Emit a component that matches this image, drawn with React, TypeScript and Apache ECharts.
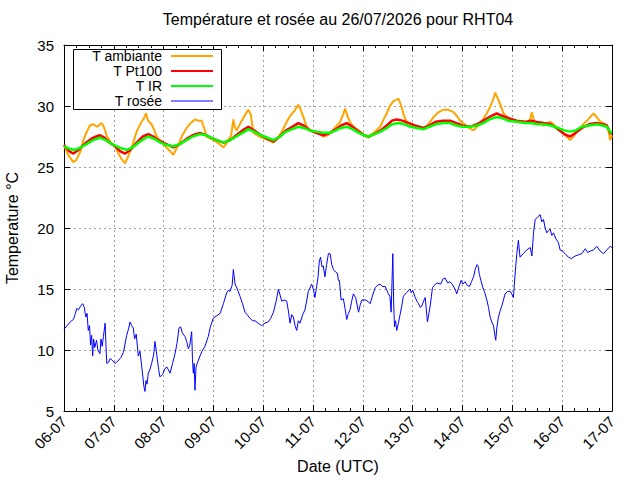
import React, { useEffect, useRef } from "react";
import * as echarts from "echarts";

// hours since 06-07 00:00 UTC, value °C
const dateLabels = ["06-07", "07-07", "08-07", "09-07", "10-07", "11-07", "12-07", "13-07", "14-07", "15-07", "16-07", "17-07"];
const seriesNames = ["T ambiante", "T Pt100", "T IR", "T rosée"];
const seriesColors = ["#ffa500", "#ff0000", "#00ff00", "#0000ff"];

const ambianteData = [
  [0, 26.8], [2, 26.0], [4.5, 25.4], [6, 25.6], [8, 26.3], [9.3, 27.2], [11, 27.9], [12.5, 28.4], [14.1, 28.5], [16, 28.3], [18.1, 28.6], [19.2, 28.3], [20.5, 27.6], [22.5, 27.0],
  [24.6, 26.7], [26.5, 26.0], [28, 25.6], [29.4, 25.3], [31, 25.9], [33, 26.8], [35, 27.9], [37, 28.6], [38.5, 29.0], [39.5, 29.4], [40.5, 28.8], [42.2, 28.5], [43.5, 28.0], [44.6, 27.5],
  [47, 27.0], [50, 26.5], [52.7, 26.0], [55, 26.8], [57, 27.6], [59.1, 28.2], [61, 28.6], [63.1, 28.9], [64.7, 28.8], [66.3, 28.8], [67.5, 28.2], [68.7, 27.5],
  [71, 27.3], [74, 27.0], [76.8, 26.6], [78.5, 27.0], [80.5, 27.6], [81.6, 28.9], [82.2, 28.3], [83.2, 28.0], [85, 28.6], [87, 29.2], [88.8, 29.7], [90, 29.3], [91.2, 27.8],
  [94, 27.5], [97, 27.3], [100.9, 27.0], [103, 27.4], [105, 27.9], [107.3, 28.7], [109, 29.2], [111, 29.6], [112.9, 30.1], [114, 29.7], [115.5, 29.0], [116.9, 28.3],
  [119, 28.0], [121.5, 27.9], [124.9, 27.5], [127, 27.6], [128.2, 27.8], [130.5, 28.2], [133, 28.7], [134.5, 29.3], [135.4, 29.8], [136.5, 29.2], [138, 28.6], [139.4, 28.3],
  [142, 28.0], [144.5, 27.6], [146.7, 27.4], [148.5, 27.7], [150.5, 28.0], [152.3, 28.3], [154, 28.9], [155.5, 29.4], [157, 30.0], [158.7, 30.4], [160, 30.5], [161.1, 30.6],
  [162.5, 30.0], [163.8, 29.2], [165.1, 28.7], [168, 28.5], [170.5, 28.3], [173.2, 28.1], [175.5, 28.5], [178, 29.1], [180.5, 29.5], [182.8, 29.7], [185, 29.7], [187.6, 29.5],
  [189.2, 29.2], [190.8, 28.8], [193, 28.5], [195, 28.2], [197.3, 28.0], [199.5, 28.4], [201.5, 28.8], [203.7, 29.4], [205.5, 30.0], [207.1, 30.7], [207.7, 31.1], [209, 30.6],
  [210.5, 30.0], [211.7, 29.4], [213.5, 29.1], [215.8, 28.9], [218.1, 28.7], [220.5, 28.7], [223, 28.6], [224.5, 28.9], [225.4, 29.5], [226.2, 28.9], [227, 28.5], [229, 28.6],
  [231, 28.4], [232.6, 28.6], [234.2, 28.7], [236.5, 28.4], [239, 28.0], [241.5, 27.6], [243.8, 27.2], [245.5, 27.5], [247.5, 28.0], [250.2, 28.5], [252.5, 28.9], [255.1, 29.4],
  [257, 29.0], [258.5, 28.7], [259.9, 28.6], [261.5, 28.4], [262.5, 27.8], [263.1, 27.2], [264, 27.6],
];

const pt100Data = [
  [0, 26.8], [2.5, 26.3], [4.5, 26.1], [7, 26.4], [10, 26.9], [13, 27.3], [15.5, 27.5], [17.3, 27.6], [19.5, 27.4], [22, 27.0], [24.6, 26.7], [27, 26.3], [29.4, 26.1],
  [32, 26.4], [35, 27.0], [38, 27.5], [40.6, 27.7], [43, 27.5], [45.5, 27.2], [49, 26.9], [52.7, 26.6], [56, 26.9], [59, 27.3], [62, 27.6], [65.5, 27.8], [68.5, 27.6],
  [72, 27.3], [76.8, 27.0], [80, 27.2], [83, 27.6], [86, 28.0], [88.8, 28.3], [91.5, 28.0], [95, 27.6], [98, 27.3], [100.9, 27.1], [104, 27.5], [107, 28.0], [110, 28.3],
  [112.9, 28.6], [115.5, 28.4], [118.5, 28.0], [121.5, 27.8], [124.9, 27.6], [128.2, 27.8], [131, 28.1], [133.5, 28.4], [136.2, 28.6], [139, 28.3], [142, 27.9], [144.5, 27.6],
  [146.7, 27.5], [149.5, 27.7], [152.5, 28.0], [155.5, 28.4], [158, 28.8], [160.3, 28.9], [163, 28.8], [166, 28.6], [169, 28.4], [173.2, 28.2], [176, 28.4], [179, 28.7],
  [182.8, 28.8], [186, 28.8], [189, 28.6], [192, 28.4], [195.6, 28.3], [199, 28.5], [202, 28.8], [205, 29.1], [208.5, 29.4], [211, 29.2], [214, 29.0], [218.1, 28.8],
  [222, 28.7], [225, 28.8], [227.8, 28.7], [231, 28.6], [234.5, 28.5], [238, 28.1], [241, 27.7], [243.8, 27.5], [246.5, 27.8], [249.5, 28.2], [253, 28.5], [256.7, 28.6],
  [259.5, 28.5], [261.5, 28.4], [263.1, 27.8], [264, 27.7],
];

const irData = [
  [0, 26.7], [2.5, 26.5], [5.3, 26.4], [8, 26.6], [11, 26.9], [14, 27.2], [17.3, 27.4], [20, 27.2], [23, 26.9], [26.5, 26.6], [30.2, 26.4], [33, 26.6], [36, 27.0],
  [38.5, 27.3], [40.6, 27.5], [43.5, 27.3], [46.5, 27.0], [49.5, 26.8], [52.7, 26.7], [56, 26.9], [59, 27.2], [62, 27.5], [65.5, 27.7], [68.5, 27.6], [72, 27.3],
  [76.8, 27.0], [80, 27.2], [83, 27.5], [86, 27.8], [88.8, 28.1], [91.5, 27.9], [95, 27.6], [98, 27.4], [100.9, 27.2], [104, 27.5], [107, 27.9], [110, 28.1], [112.9, 28.3],
  [115.5, 28.2], [118.5, 28.0], [121.5, 27.9], [124.9, 27.8], [128.2, 27.8], [131, 28.0], [133.5, 28.2], [136.2, 28.3], [139, 28.1], [142, 27.8], [144.5, 27.6], [146.7, 27.5],
  [149.5, 27.7], [152.5, 27.9], [155.5, 28.2], [158, 28.5], [161.1, 28.6], [164, 28.5], [167, 28.3], [170, 28.2], [173.2, 28.1], [176, 28.3], [179, 28.5], [182.8, 28.6],
  [186, 28.6], [189, 28.4], [192, 28.3], [195.6, 28.3], [199, 28.4], [202, 28.6], [205, 28.9], [208.5, 29.1], [211, 29.0], [214, 28.8], [218.1, 28.7], [222, 28.6],
  [225, 28.6], [228, 28.5], [231, 28.5], [234.5, 28.4], [238, 28.2], [241, 28.0], [243.8, 27.9], [246.5, 28.0], [249.5, 28.3], [253, 28.4], [256.7, 28.5], [259.5, 28.4],
  [261.5, 28.3], [263.1, 27.9], [264, 27.8],
];

const roseeData = [
  [0, 11.7], [1.5, 12.0], [3, 12.3], [4.5, 12.5], [5.5, 13.0], [6.1, 13.4], [7, 13.3], [8, 13.6], [9, 13.8], [9.8, 13.5], [10.1, 13.1], [10.6, 12.7], [11.1, 13.0], [11.7, 11.6],
  [12.3, 12.0], [12.8, 10.4], [13.3, 11.2], [13.8, 9.5], [14.3, 10.9], [14.8, 10.2], [15.7, 10.8], [16.3, 10.0], [17.3, 9.7], [17.8, 10.9], [18.4, 10.3], [19.0, 11.1],
  [19.8, 12.2], [20.2, 10.5], [20.6, 8.9], [21.5, 9.0], [22.2, 9.3], [23.0, 9.2], [24.6, 8.9], [26, 9.1], [27.5, 9.4], [28.6, 9.8], [30.2, 11.2], [31.2, 11.8], [31.8, 12.3],
  [32.6, 12.0], [33.4, 11.8], [34.0, 10.9], [34.8, 11.3], [35.8, 9.5], [36.6, 9.9], [37.4, 8.7], [38.0, 7.8], [38.5, 7.0], [39.0, 6.6], [39.5, 7.5], [40.0, 7.2], [40.6, 8.1],
  [41.4, 8.4], [42.2, 8.9], [43.2, 9.6], [43.8, 10.7], [44.4, 10.0], [45.0, 9.2], [45.6, 8.4], [46.2, 7.8], [47.5, 8.0], [48.7, 8.5], [49.6, 8.6], [51.1, 8.1], [52.3, 8.9],
  [53.5, 9.7], [54.5, 10.6], [55.4, 11.8], [56.2, 11.9], [57.0, 11.4], [58.3, 11.1], [59.1, 10.7], [59.9, 10.1], [60.6, 10.4], [61.5, 11.5], [61.9, 9.2], [62.3, 8.1],
  [62.7, 8.9], [63.1, 6.7], [63.6, 8.6], [64.4, 9.0], [65.5, 9.5], [66.5, 9.9], [67.9, 10.3], [69.5, 11.1], [70.5, 11.9], [71.9, 12.6], [73.5, 12.8], [75.2, 13.0],
  [76.8, 13.8], [78.4, 14.7], [79.2, 14.9], [80.0, 14.8], [81.0, 15.3], [81.6, 16.6], [82.4, 15.4], [83.5, 15.0], [84.8, 14.4], [86.0, 13.8], [87.2, 13.1], [88.2, 12.9],
  [89.6, 12.6], [90.8, 12.4], [92.0, 12.4], [93.5, 12.2], [95.2, 12.0], [96.8, 12.2], [98.4, 12.3], [99.6, 12.6], [100.9, 13.1], [102.2, 14.0], [103.3, 15.0], [104.1, 14.5],
  [104.9, 14.0], [106.0, 14.1], [107.3, 14.0], [108.1, 13.2], [108.9, 12.2], [109.7, 12.9], [110.5, 12.7], [111.3, 12.0], [112.1, 11.6], [112.9, 12.4], [113.7, 12.2],
  [115, 12.9], [116.1, 13.3], [117.0, 14.1], [117.7, 14.8], [119.3, 15.4], [120.1, 15.0], [120.9, 14.3], [121.7, 15.2], [122.4, 16.0], [123.0, 17.3], [123.6, 17.6],
  [124.3, 16.8], [124.9, 16.9], [125.7, 16.0], [126.5, 17.0], [127.4, 17.9], [128.2, 17.9], [129.0, 17.0], [129.8, 16.6], [130.8, 16.4], [131.7, 16.3], [132.2, 15.7],
  [132.7, 15.7], [133.5, 14.1], [134.6, 14.2], [135.4, 13.4], [136.2, 12.5], [137.0, 13.0], [137.8, 13.3], [138.6, 14.0], [139.4, 14.6], [140.5, 14.3], [141.9, 13.1],
  [142.7, 13.7], [143.5, 14.1], [145.5, 14.1], [147.5, 13.8], [148.7, 14.5], [149.9, 15.1], [151.0, 15.3], [152.3, 15.4], [153.5, 15.2], [154.7, 15.2], [155.5, 14.9],
  [156.3, 14.6], [157.0, 14.4], [157.6, 13.1], [158.0, 15.5], [158.4, 17.9], [158.8, 14.0], [159.2, 11.9], [159.7, 12.4], [160.3, 11.6], [161.1, 12.2], [161.9, 12.9],
  [162.7, 13.6], [163.5, 14.4], [165.0, 14.7], [166.7, 15.0], [167.3, 14.7], [168.0, 14.9], [169.2, 14.3], [170.0, 14.0], [170.8, 13.8], [171.6, 13.5], [172.4, 13.6],
  [173.2, 14.0], [174.0, 14.3], [174.6, 13.2], [175.1, 12.3], [175.8, 13.0], [176.4, 13.6], [177.0, 14.4], [177.5, 15.1], [178.5, 15.3], [179.6, 15.5], [181.5, 15.4],
  [182.5, 15.8], [183.6, 15.9], [184.8, 15.5], [186.0, 15.6], [187.0, 15.4], [188.0, 15.1], [188.6, 14.9], [189.2, 14.6], [190.3, 15.2], [191.3, 15.7], [192.2, 15.4],
  [193.2, 15.6], [194.3, 15.3], [195.3, 15.2], [196.3, 15.6], [197.3, 16.0], [198.1, 16.6], [198.9, 17.0], [199.5, 16.9], [200.1, 16.2], [201.0, 15.6], [201.8, 15.1],
  [202.7, 14.7], [203.7, 14.1], [204.5, 13.5], [205.3, 12.7], [206.1, 12.3], [206.9, 12.0], [207.5, 11.3], [208.0, 10.8], [208.5, 11.8], [209.3, 12.7], [210.1, 13.2],
  [210.9, 13.6], [211.7, 14.1], [212.5, 14.6], [213.7, 14.8], [214.9, 14.8], [215.7, 14.6], [216.5, 14.3], [217.3, 16.2], [218.1, 17.8], [218.9, 19.0], [219.7, 17.6],
  [221.3, 17.9], [222.9, 18.2], [224.6, 18.4], [225.4, 17.7], [226.2, 19.6], [227.0, 20.7], [228.2, 20.9], [229.4, 21.1], [230.2, 20.5], [231.0, 20.7], [231.8, 20.0],
  [232.6, 19.6], [233.4, 19.8], [234.2, 19.9], [235.0, 19.4], [235.8, 19.6], [237.0, 19.1], [238.2, 18.8], [239.0, 18.2], [240.2, 18.1], [241.4, 17.9], [243.0, 17.6],
  [244.6, 17.5], [246.2, 17.7], [247.8, 17.8], [249.5, 17.9], [251.1, 18.3], [252.3, 18.0], [253.5, 18.1], [255.1, 18.2], [256.7, 18.5], [258.3, 18.1], [259.9, 17.9],
  [261.5, 18.2], [263.1, 18.5], [264, 18.4],
];

const FONT = '"Liberation Sans", Arial, sans-serif';

export default function App() {
  const ref = useRef<HTMLDivElement>(null);

  useEffect(() => {
    if (!ref.current) return;
    const chart = echarts.init(ref.current, null, { renderer: "svg" });
    const black = { color: "#000", width: 1 };
    const gridLine = { show: true, lineStyle: { color: "#a0a0a0", width: 1, type: [2, 3] as any } };
    const xCommon = {
      type: "value" as const,
      min: 0,
      max: 264,
      interval: 24,
      axisLine: { show: true, onZero: false, lineStyle: black },
      axisTick: { show: true, inside: true, length: 6, lineStyle: black },
      minorTick: { show: true, splitNumber: 4, length: 3, lineStyle: black },
    };
    const yCommon = {
      type: "value" as const,
      min: 5,
      max: 35,
      interval: 5,
      axisLine: { show: true, onZero: false, lineStyle: black },
      axisTick: { show: true, inside: true, length: 6, lineStyle: black },
    };
    const dataSets = [ambianteData, pt100Data, irData, roseeData];
    const widths = [2, 2.5, 2.5, 1];
    const legendGraphics: any[] = [
      {
        type: "rect",
        z: 100,
        shape: { x: 73.5, y: 49.5, width: 148, height: 60 },
        style: { fill: "#fff", stroke: "#000", lineWidth: 1 },
      },
    ];
    seriesNames.forEach((n, i) => {
      const y = 56 + 15 * i;
      legendGraphics.push({
        type: "text",
        z: 101,
        x: 162,
        y,
        style: {
          text: n,
          fill: "#000",
          fontSize: 14,
          lineHeight: 13,
          fontFamily: FONT,
          align: "right",
          textAlign: "right",
          verticalAlign: "middle",
          textVerticalAlign: "middle",
        },
      });
      legendGraphics.push({
        type: "line",
        z: 101,
        shape: { x1: 171, y1: y, x2: 213, y2: y },
        style: { stroke: seriesColors[i], lineWidth: i < 3 ? 2 : 1 },
      });
    });

    chart.setOption({
      animation: false,
      backgroundColor: "#fff",
      title: {
        text: "Température et rosée au 26/07/2026 pour RHT04",
        left: 338,
        top: 11,
        padding: 0,
        textAlign: "center",
        textStyle: { fontSize: 16, fontWeight: "normal", color: "#000", fontFamily: FONT },
      },
      grid: { left: 64, right: 28, top: 45, bottom: 69, containLabel: false, outerBoundsMode: "none" },
      xAxis: [
        {
          ...xCommon,
          position: "bottom",
          name: "Date (UTC)",
          nameLocation: "middle",
          nameGap: 47,
          nameTextStyle: { fontSize: 16, color: "#000", fontFamily: FONT },
          axisLabel: {
            rotate: 45,
            margin: 8,
            fontSize: 15,
            color: "#000",
            fontFamily: FONT,
            formatter: (v: number) => dateLabels[Math.round(v / 24)] ?? "",
          },
          splitLine: gridLine,
        },
        {
          ...xCommon,
          position: "top",
          axisLabel: { show: false },
          splitLine: { show: false },
        },
      ],
      yAxis: [
        {
          ...yCommon,
          position: "left",
          name: "Temperature °C",
          nameLocation: "middle",
          nameGap: 44,
          nameTextStyle: { fontSize: 16, color: "#000", fontFamily: FONT },
          axisLabel: { fontSize: 15, color: "#000", fontFamily: FONT, margin: 10 },
          splitLine: gridLine,
        },
        {
          ...yCommon,
          position: "right",
          axisLabel: { show: false },
          splitLine: { show: false },
        },
      ],
      series: seriesNames.map((n, i) => ({
        name: n,
        type: "line",
        xAxisIndex: 0,
        yAxisIndex: 0,
        data: dataSets[i],
        symbol: "none",
        showSymbol: false,
        lineStyle: { color: seriesColors[i], width: widths[i] },
        itemStyle: { color: seriesColors[i] },
        z: 2 + i,
      })),
      graphic: legendGraphics,
    });
    return () => chart.dispose();
  }, []);

  return (
    <div
      ref={ref}
      style={{ position: "fixed", left: 0, top: 0, width: 640, height: 480, background: "#fff" }}
    />
  );
}
